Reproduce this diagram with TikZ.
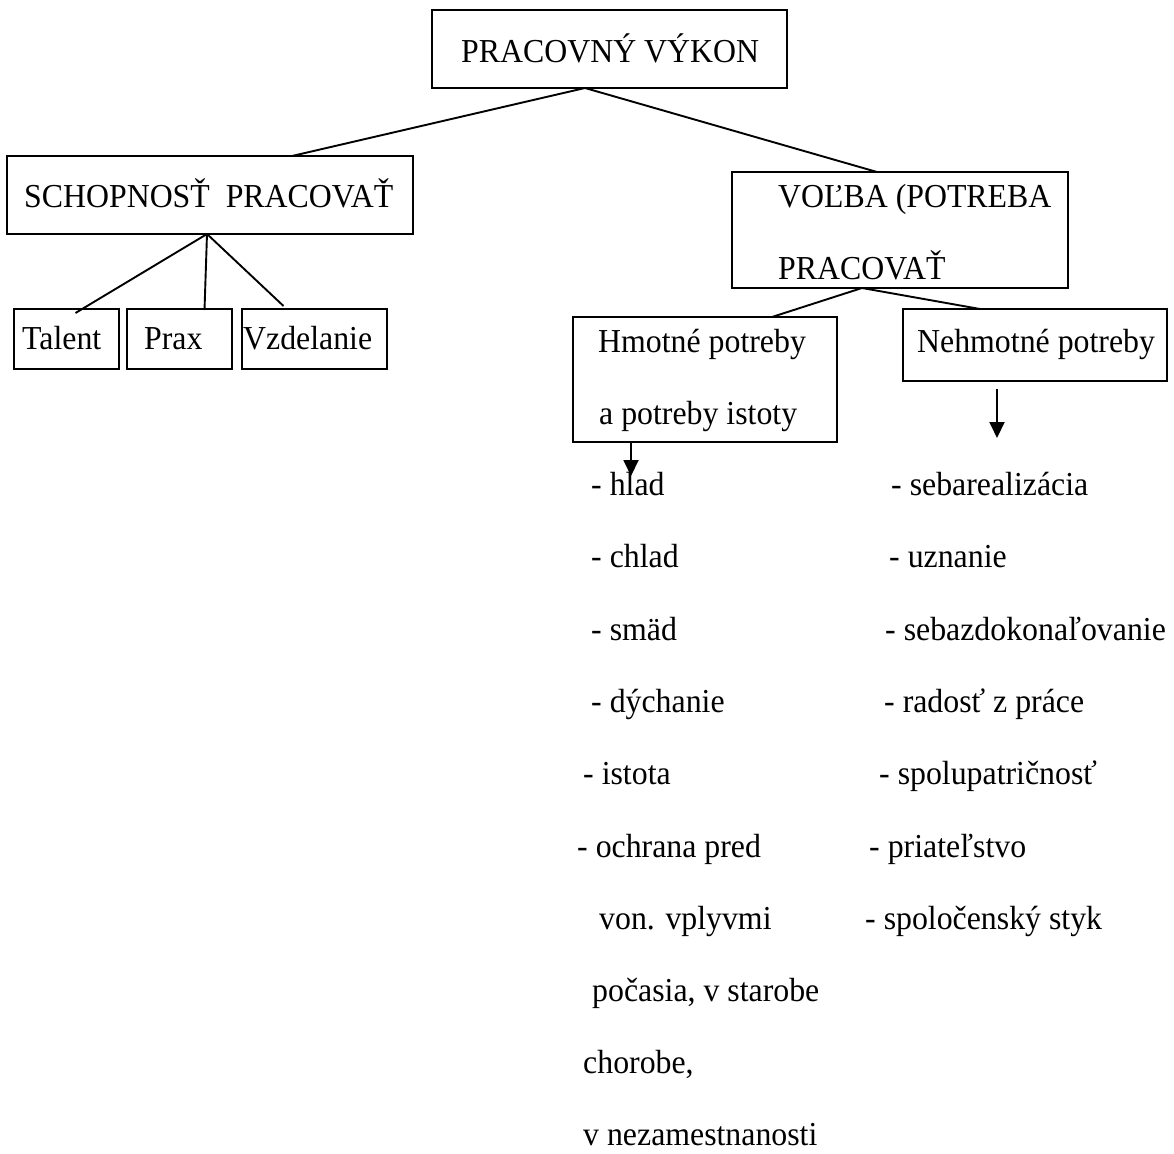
\documentclass[tikz,border=0pt]{standalone}
\usepackage{fontspec}
\setmainfont{Liberation Serif}[FakeStretch=0.95]
\usetikzlibrary{arrows.meta}
\newcommand{\bodyfont}{\fontsize{33.5}{38}\selectfont}
\tikzset{
  box/.style={draw, line width=1.9pt, inner sep=0pt, outer sep=0pt},
  txt/.style={anchor=base west, inner sep=0pt, font=\bodyfont},
  link/.style={line width=1.9pt},
  pointer/.style={line width=1.9pt, -{Triangle[width=15pt,length=16pt]}},
}
\begin{document}
\begin{tikzpicture}[x=1pt,y=-1pt]
  \fill[white] (0,0) rectangle (1174,1153);
  \useasboundingbox (0,0) rectangle (1174,1153);

  % boxes (centre, width, height)
  \node[box, minimum width=355pt, minimum height=78pt] (top) at (609.5,49) {};
  \node[box, minimum width=406pt, minimum height=78pt] (abil) at (210,195) {};
  \node[box, minimum width=105pt, minimum height=60pt] (talent) at (66.5,339) {};
  \node[box, minimum width=105pt, minimum height=60pt] (prax) at (179.5,339) {};
  \node[box, minimum width=145pt, minimum height=60pt] (edu) at (314.5,339) {};
  \node[box, minimum width=336pt, minimum height=116pt] (choice) at (900,230) {};
  \node[box, minimum width=264pt, minimum height=125pt] (mat) at (705,379.5) {};
  \node[box, minimum width=264pt, minimum height=72pt] (immat) at (1035,345) {};

  % box texts
  \node[txt] (ttop) at (461,62.5) {PRACOVNÝ VÝKON};
  \node[txt] (tabil) at (24,207) {SCHOPNOSŤ~~PRACOVAŤ};
  \node[txt] (ttal) at (22,349) {Talent};
  \node[txt] (tprax) at (144,349) {Prax};
  \node[txt] (tedu) at (243,349) {Vzdelanie};
  \node[txt] (tch1) at (778,207) {VOĽBA (POTREBA};
  \node[txt] (tch2) at (778,279) {PRACOVAŤ};
  \node[txt] (tmat1) at (598,352) {Hmotné potreby};
  \node[txt] (tmat2) at (599,424) {a potreby istoty};
  \node[txt] (timm) at (917,352) {Nehmotné potreby};

  % tree connectors
  \draw[link] ([xshift=-24.5pt]top.south) -- ([xshift=82pt]abil.north);
  \draw[link] ([xshift=-24.5pt]top.south) -- ([xshift=-23pt]choice.north);
  \draw[link] ([xshift=-3pt]abil.south) -- ([xshift=9pt,yshift=-4pt]talent.north);
  \draw[link] ([xshift=-3pt]abil.south) -- ([xshift=25pt,yshift=-1pt]prax.north);
  \draw[link] ([xshift=-3pt]abil.south) -- ([xshift=-31pt,yshift=3pt]edu.north);
  \draw[link] ([xshift=-38pt]choice.south) -- ([xshift=67pt]mat.north);
  \draw[link] ([xshift=-38pt]choice.south) -- ([xshift=-55pt]immat.north);

  % pointers to the lists
  \coordinate (matend) at (631,476);
  \coordinate (immstart) at (997,389);
  \coordinate (immend) at (997,438);
  \draw[pointer] (mat.south -| matend) -- (matend);
  \draw[pointer] (immstart) -- (immend);

  % material needs
  \node[txt] (m1) at (591,495) {- hlad};
  \node[txt] (m2) at (591,567) {- chlad};
  \node[txt] (m3) at (591,640) {- smäd};
  \node[txt] (m4) at (591,712) {- dýchanie};
  \node[txt] (m5) at (583,784) {- istota};
  \node[txt] (m6) at (577,857) {- ochrana pred};
  \node[txt] (m7) at (599,929) {von. vplyvmi};
  \node[txt] (m8) at (592,1001) {počasia, v starobe};
  \node[txt] (m9) at (583,1073) {chorobe,};
  \node[txt] (m10) at (583,1145) {v nezamestnanosti};

  % immaterial needs
  \node[txt] (n1) at (891,495) {- sebarealizácia};
  \node[txt] (n2) at (889,567) {- uznanie};
  \node[txt] (n3) at (885,640) {- sebazdokonaľovanie};
  \node[txt] (n4) at (884,712) {- radosť z práce};
  \node[txt] (n5) at (879,784) {- spolupatričnosť};
  \node[txt] (n6) at (869,857) {- priateľstvo};
  \node[txt] (n7) at (865,929) {- spoločenský styk};
\end{tikzpicture}
\end{document}
